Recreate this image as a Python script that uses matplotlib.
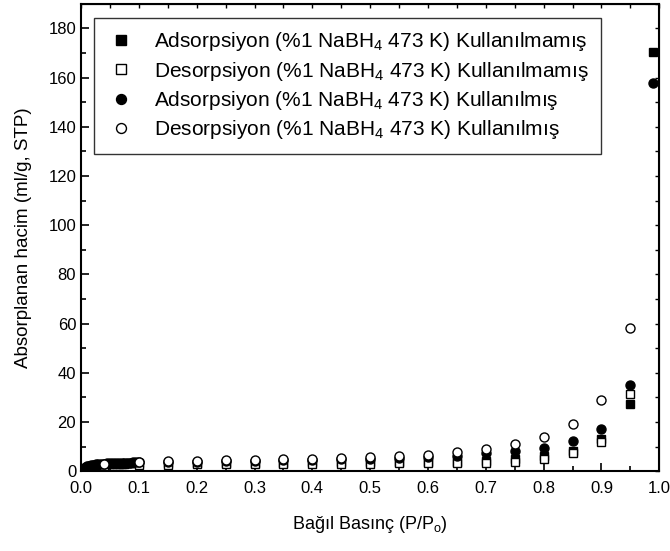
import matplotlib
matplotlib.use('Agg')
import matplotlib.pyplot as plt
from matplotlib.ticker import MultipleLocator

plt.rcParams['font.family'] = ['Liberation Sans', 'DejaVu Sans']
plt.rcParams['mathtext.default'] = 'regular'

# relative pressure points (low-pressure region is sampled densely)
p_low = [0.002, 0.005, 0.008, 0.011, 0.014, 0.017, 0.02, 0.025, 0.03, 0.035, 0.04,
         0.045, 0.05, 0.055, 0.06, 0.065, 0.07, 0.075, 0.08, 0.085, 0.09, 0.095, 0.1]
p_high = [0.15, 0.2, 0.25, 0.3, 0.35, 0.4, 0.45, 0.5, 0.55, 0.6,
          0.65, 0.7, 0.75, 0.8, 0.85, 0.9, 0.95]

# unused catalyst (squares)
ads_unused_low = [0.6, 1.0, 1.4, 1.7, 1.9, 2.1, 2.2, 2.4, 2.5, 2.6, 2.7,
                  2.8, 2.8, 2.9, 2.9, 3.0, 3.0, 3.0, 3.1, 3.1, 3.1, 3.2, 3.2]
ads_unused_high = [3.2, 3.3, 3.3, 3.4, 3.4, 3.5, 3.5, 3.6, 3.7, 3.8,
                   3.9, 4.2, 5.0, 6.0, 8.0, 12.9, 27.3]
des_unused_p = [0.04, 0.1] + p_high
des_unused = [2.2, 2.4, 2.6, 2.7, 2.8, 2.8, 2.9, 2.9, 3.0, 3.0, 3.1, 3.1,
              3.2, 3.4, 3.8, 4.9, 7.3, 11.8, 31.2]

# used catalyst (circles)
ads_used_low = [0.8, 1.3, 1.7, 2.0, 2.2, 2.4, 2.5, 2.7, 2.8, 2.9, 3.0,
                3.1, 3.1, 3.2, 3.2, 3.3, 3.3, 3.4, 3.4, 3.4, 3.5, 3.5, 3.6]
ads_used_high = [3.7, 3.9, 4.0, 4.2, 4.4, 4.6, 4.8, 5.0, 5.3, 5.7,
                 6.2, 7.2, 8.1, 9.5, 12.2, 17.0, 34.9]
des_used_p = [0.04, 0.1] + p_high
des_used = [3.0, 3.9, 4.0, 4.2, 4.4, 4.6, 4.8, 5.0, 5.3, 5.6, 6.0, 6.5,
            7.6, 8.8, 11.0, 13.7, 19.1, 28.8, 58.3]

# last adsorption point near saturation
p_sat = 0.99
ads_unused_sat = 170.5
ads_used_sat = 158.0

labels = [
    'Adsorpsiyon (%1 NaBH$_4$ 473 K) Kullanılmamış',
    'Desorpsiyon (%1 NaBH$_4$ 473 K) Kullanılmamış',
    'Adsorpsiyon (%1 NaBH$_4$ 473 K) Kullanılmış',
    'Desorpsiyon (%1 NaBH$_4$ 473 K) Kullanılmış',
]

fig = plt.figure(figsize=(6.7, 5.51), dpi=100)
ax = fig.add_axes([0.121, 0.145, 0.863, 0.848])

ms = 6
x_ads = p_low + p_high + [p_sat]
ax.plot(x_ads, ads_unused_low + ads_unused_high + [ads_unused_sat], 's',
        color='black', ms=ms, label=labels[0])
ax.plot(des_unused_p, des_unused, 's', mfc='white', mec='black', mew=1.0,
        ms=ms, label=labels[1])
ax.plot(x_ads, ads_used_low + ads_used_high + [ads_used_sat], 'o',
        color='black', ms=ms + 0.5, label=labels[2])
ax.plot(des_used_p, des_used, 'o', mfc='white', mec='black', mew=1.0,
        ms=ms + 0.5, label=labels[3])

ax.set_xlim(0, 1.0)
ax.set_ylim(0, 190)
ax.xaxis.set_major_locator(MultipleLocator(0.1))
ax.xaxis.set_minor_locator(MultipleLocator(0.05))
ax.yaxis.set_major_locator(MultipleLocator(20))
ax.yaxis.set_minor_locator(MultipleLocator(10))
ax.xaxis.set_major_formatter(plt.FuncFormatter(lambda v, _: f'{v:.1f}'))
ax.tick_params(which='both', direction='in', labelsize=12, width=1.2)
ax.tick_params(which='major', length=6)
ax.tick_params(which='minor', length=3.5)
ax.tick_params(axis='x', pad=7)
for s in ax.spines.values():
    s.set_linewidth(1.5)

# short ticks on the top and right frame
top = ax.secondary_xaxis('top')
top.xaxis.set_major_locator(MultipleLocator(0.05))
top.tick_params(direction='in', length=3, width=1.0, labeltop=False)
right = ax.secondary_yaxis('right')
right.yaxis.set_major_locator(MultipleLocator(10))
right.tick_params(direction='in', length=3, width=1.0, labelright=False)

ax.set_xlabel('Bağıl Basınç (P/P$_o$)', fontsize=13, labelpad=13)
ax.set_ylabel('Absorplanan hacim (ml/g, STP)', fontsize=13.5, labelpad=12)

leg = ax.legend(loc='upper left', bbox_to_anchor=(0.022, 0.97), fontsize=15,
                frameon=True, fancybox=False, edgecolor='black',
                handletextpad=0.9, labelspacing=0.3, borderpad=0.6,
                borderaxespad=0, handlelength=1.4, markerscale=1.1)
leg.get_frame().set_linewidth(1.0)

fig.savefig('out.png', dpi=100)
